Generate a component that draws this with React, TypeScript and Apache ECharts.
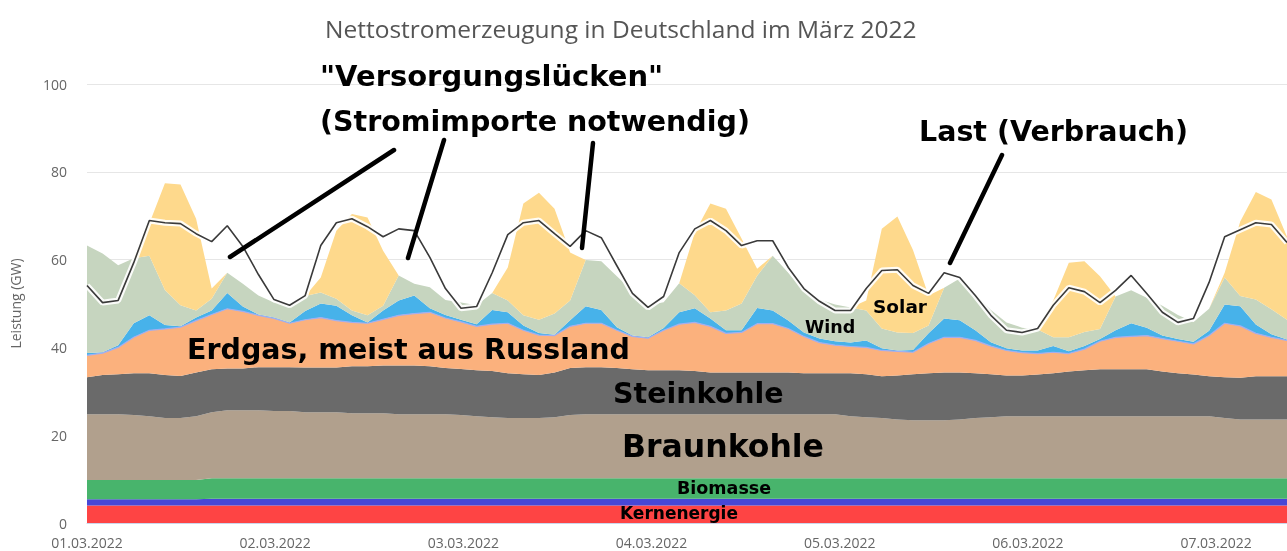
import React, { useEffect, useRef } from "react";
import * as echarts from "echarts";

const hours = [0, 2, 4, 6, 8, 10, 12, 14, 16, 18, 20, 22, 24, 26, 28, 30, 32, 34, 36, 38, 40, 42, 44, 46, 48, 50, 52, 54, 56, 58, 60, 62, 64, 66, 68, 70, 72, 74, 76, 78, 80, 82, 84, 86, 88, 90, 92, 94, 96, 98, 100, 102, 104, 106, 108, 110, 112, 114, 116, 118, 120, 122, 124, 126, 128, 130, 132, 134, 136, 138, 140, 142, 144, 146, 148, 150, 152, 154];

const dateLabels = ["01.03.2022", "02.03.2022", "03.03.2022", "04.03.2022", "05.03.2022", "06.03.2022", "07.03.2022"];
const dayStep = 24.15;

const kernenergie = [4.0, 4.0, 4.0, 4.0, 4.0, 4.0, 4.0, 4.0, 4.0, 4.0, 4.0, 4.0, 4.0, 4.0, 4.0, 4.0, 4.0, 4.0, 4.0, 4.0, 4.0, 4.0, 4.0, 4.0, 4.0, 4.0, 4.0, 4.0, 4.0, 4.0, 4.0, 4.0, 4.0, 4.0, 4.0, 4.0, 4.0, 4.0, 4.0, 4.0, 4.0, 4.0, 4.0, 4.0, 4.0, 4.0, 4.0, 4.0, 4.0, 4.0, 4.0, 4.0, 4.0, 4.0, 4.0, 4.0, 4.0, 4.0, 4.0, 4.0, 4.0, 4.0, 4.0, 4.0, 4.0, 4.0, 4.0, 4.0, 4.0, 4.0, 4.0, 4.0, 4.0, 4.0, 4.0, 4.0, 4.0, 4.0];
const laufwasser = [1.4, 1.4, 1.4, 1.4, 1.4, 1.4, 1.4, 1.4, 1.5, 1.5, 1.5, 1.5, 1.5, 1.5, 1.5, 1.5, 1.5, 1.5, 1.5, 1.5, 1.5, 1.5, 1.5, 1.5, 1.5, 1.5, 1.5, 1.5, 1.5, 1.5, 1.5, 1.5, 1.5, 1.5, 1.5, 1.5, 1.5, 1.5, 1.5, 1.5, 1.5, 1.5, 1.5, 1.5, 1.5, 1.5, 1.5, 1.5, 1.5, 1.5, 1.5, 1.5, 1.5, 1.5, 1.5, 1.5, 1.5, 1.5, 1.5, 1.5, 1.5, 1.5, 1.5, 1.5, 1.5, 1.5, 1.5, 1.5, 1.5, 1.5, 1.5, 1.5, 1.5, 1.5, 1.5, 1.5, 1.5, 1.5];
const biomasse = [4.4, 4.4, 4.4, 4.4, 4.4, 4.4, 4.4, 4.4, 4.7, 4.7, 4.7, 4.7, 4.7, 4.7, 4.7, 4.7, 4.7, 4.7, 4.7, 4.7, 4.7, 4.7, 4.7, 4.7, 4.7, 4.7, 4.7, 4.7, 4.7, 4.7, 4.7, 4.7, 4.7, 4.7, 4.7, 4.7, 4.7, 4.7, 4.7, 4.7, 4.7, 4.7, 4.7, 4.7, 4.7, 4.7, 4.7, 4.7, 4.7, 4.7, 4.7, 4.7, 4.7, 4.7, 4.7, 4.7, 4.7, 4.7, 4.7, 4.7, 4.7, 4.7, 4.7, 4.7, 4.7, 4.7, 4.7, 4.7, 4.7, 4.7, 4.7, 4.7, 4.7, 4.7, 4.7, 4.7, 4.7, 4.7];
const braunkohle = [15.0, 15.0, 15.0, 14.8, 14.5, 14.1, 14.1, 14.5, 15.0, 15.5, 15.5, 15.5, 15.3, 15.3, 15.0, 15.0, 15.0, 14.8, 14.8, 14.8, 14.6, 14.6, 14.6, 14.6, 14.4, 14.1, 13.9, 13.7, 13.7, 13.7, 13.9, 14.4, 14.6, 14.6, 14.6, 14.6, 14.6, 14.6, 14.6, 14.6, 14.6, 14.6, 14.6, 14.6, 14.6, 14.6, 14.6, 14.6, 14.6, 14.1, 13.9, 13.7, 13.4, 13.2, 13.2, 13.2, 13.4, 13.7, 13.9, 14.1, 14.1, 14.1, 14.1, 14.1, 14.1, 14.1, 14.1, 14.1, 14.1, 14.1, 14.1, 14.1, 14.1, 13.7, 13.4, 13.4, 13.4, 13.4];
const steinkohle = [8.4, 8.9, 9.1, 9.5, 9.8, 9.8, 9.6, 10.0, 9.8, 9.5, 9.5, 9.8, 10.0, 10.0, 10.2, 10.2, 10.2, 10.7, 10.7, 10.9, 11.1, 11.1, 10.9, 10.5, 10.5, 10.5, 10.5, 10.2, 10.0, 9.8, 10.2, 10.7, 10.7, 10.7, 10.5, 10.2, 10.0, 10.0, 10.0, 9.8, 9.5, 9.5, 9.5, 9.5, 9.5, 9.5, 9.3, 9.3, 9.3, 9.8, 9.8, 9.5, 10.0, 10.5, 10.7, 10.9, 10.7, 10.2, 9.8, 9.3, 9.3, 9.5, 9.8, 10.2, 10.5, 10.7, 10.7, 10.7, 10.7, 10.2, 9.8, 9.5, 9.1, 9.3, 9.5, 9.8, 9.8, 9.8];
const erdgas = [5.0, 5.0, 6.1, 8.2, 9.8, 10.5, 11.1, 11.8, 12.5, 13.6, 13.0, 11.8, 11.1, 10.0, 10.9, 11.4, 10.7, 10.0, 9.8, 10.5, 11.4, 11.8, 12.3, 11.4, 10.7, 10.0, 10.7, 11.4, 10.0, 9.1, 8.4, 9.5, 10.0, 10.0, 8.6, 7.5, 7.3, 9.1, 10.5, 11.1, 10.5, 8.9, 9.1, 11.1, 11.1, 10.0, 8.4, 7.0, 6.4, 6.1, 6.1, 5.9, 5.5, 5.0, 6.8, 8.0, 8.0, 7.5, 6.4, 5.7, 5.2, 4.8, 4.8, 4.1, 4.8, 6.4, 7.3, 7.5, 7.7, 7.5, 7.3, 7.0, 9.3, 12.3, 11.8, 9.8, 8.9, 8.2];
const pumpspeicher = [0.5, 0.2, 0.5, 3.2, 3.4, 0.9, 0.2, 0.7, 0.9, 3.6, 1.1, 0.2, 0.2, 0.2, 2.0, 3.2, 3.4, 1.6, 0.2, 2.0, 3.4, 4.1, 0.9, 0.7, 0.5, 0.5, 3.2, 2.5, 1.1, 0.5, 0.2, 1.4, 3.9, 3.0, 0.7, 0.2, 0.2, 0.5, 2.7, 3.2, 1.8, 0.7, 0.5, 3.6, 3.0, 1.8, 0.9, 0.9, 0.9, 0.9, 1.6, 0.5, 0.2, 0.5, 2.3, 4.3, 3.9, 2.3, 0.9, 0.5, 0.5, 0.7, 1.4, 0.5, 0.7, 0.5, 1.6, 3.0, 1.8, 0.7, 0.5, 0.5, 1.1, 4.3, 4.5, 2.0, 0.7, 0.2];
const wind = [24.5, 22.5, 18.2, 14.8, 13.6, 8.0, 4.8, 1.6, 2.7, 4.6, 5.2, 4.3, 3.4, 4.3, 3.4, 2.5, 1.6, 1.1, 1.6, 1.1, 5.7, 2.7, 4.8, 3.4, 3.9, 4.3, 3.9, 2.7, 2.3, 3.0, 4.8, 4.5, 10.5, 11.1, 11.6, 10.2, 7.3, 5.9, 6.6, 3.0, 1.4, 4.5, 6.1, 7.3, 12.5, 10.9, 9.5, 8.9, 8.4, 8.0, 6.8, 4.5, 4.1, 3.9, 1.8, 7.0, 9.5, 8.2, 7.3, 5.9, 5.2, 4.8, 2.0, 3.2, 3.2, 2.3, 7.7, 7.5, 6.8, 6.8, 5.5, 4.5, 5.0, 6.1, 2.3, 5.7, 5.7, 4.5];
const solar = [0, 0, 0, 0, 7.3, 24.3, 27.5, 20.9, 2.3, 0, 0, 0, 0, 0, 0, 3.4, 15.5, 22.0, 22.3, 12.5, 0, 0, 0, 0, 0, 0, 0, 7.5, 25.5, 28.9, 23.9, 10.9, 0, 0, 0, 0, 0, 0, 0, 14.3, 24.8, 23.2, 14.8, 1.6, 0, 0, 0, 0, 0, 0, 2.3, 22.7, 26.4, 18.9, 6.8, 0, 0, 0, 0, 0, 0, 0, 8.4, 17.0, 16.1, 12.0, 0, 0, 0, 0, 0, 0, 0, 1.1, 17.0, 24.5, 25.0, 18.9];
const last = [54.1, 50.2, 50.7, 59.3, 68.9, 68.4, 68.2, 65.9, 64.1, 67.7, 63.0, 56.6, 50.9, 49.6, 51.8, 63.2, 68.4, 69.3, 67.5, 65.2, 67.0, 66.6, 60.5, 53.4, 48.9, 49.3, 57.0, 65.7, 68.4, 68.9, 65.9, 63.0, 66.6, 65.0, 58.6, 52.3, 49.1, 51.6, 61.6, 67.0, 68.9, 66.6, 63.2, 64.3, 64.3, 58.2, 53.4, 50.5, 48.4, 48.4, 53.4, 57.5, 57.7, 54.1, 52.3, 57.0, 55.9, 51.8, 47.3, 43.9, 43.4, 44.3, 49.6, 53.6, 52.7, 50.2, 53.0, 56.4, 52.3, 48.0, 45.7, 46.6, 54.8, 65.2, 66.8, 68.4, 68.0, 63.9];

const annotations = [
  { text: "\"Versorgungslücken\"", x: 320, y: 76, size: 29 },
  { text: "(Stromimporte notwendig)", x: 320, y: 121, size: 28.5 },
  { text: "Last (Verbrauch)", x: 919, y: 131, size: 28.5 },
  { text: "Erdgas, meist aus Russland", x: 187, y: 349, size: 28.5 },
  { text: "Steinkohle", x: 613, y: 393, size: 28.5 },
  { text: "Braunkohle", x: 622, y: 446, size: 31.5 },
  { text: "Biomasse", x: 677, y: 488, size: 17.5 },
  { text: "Kernenergie", x: 620, y: 513, size: 17 },
  { text: "Wind", x: 805, y: 327, size: 17.5 },
  { text: "Solar", x: 873, y: 306, size: 18.5 },
];

const pointers = [
  [230, 257, 394, 150],
  [408, 258, 444, 140],
  [582, 248, 593, 143],
  [950, 263, 1002, 155],
];

export default function App() {
  const ref = useRef<HTMLDivElement>(null);
  useEffect(() => {
    if (!ref.current) return;
    const chart = echarts.init(ref.current, null, { renderer: "svg" });
    const area = (name: string, data: number[], color: string, line?: any) => ({
      name,
      type: "line",
      stack: "gen",
      data,
      symbol: "none",
      showSymbol: false,
      silent: true,
      lineStyle: line || { width: 0, opacity: 0 },
      itemStyle: { color },
      areaStyle: { color, opacity: 1 },
      z: 2,
    });
    const option: any = {
      animation: false,
      title: {
        text: "Nettostromerzeugung in Deutschland im März 2022",
        left: 320,
        top: 11,
        textStyle: { fontFamily: "Open Sans", fontSize: 24.5, fontWeight: "normal", color: "#555" },
      },
      grid: { left: 85, right: 0, top: 84, bottom: 28, containLabel: false },
      xAxis: [
        {
          type: "category",
          data: hours.map(String),
          boundaryGap: false,
          show: false,
        },
        {
          type: "value",
          min: 0,
          max: 154,
          interval: dayStep,
          position: "bottom",
          axisLine: { show: true, lineStyle: { color: "#ccd6eb" } },
          axisTick: { show: false },
          splitLine: { show: false },
          axisLabel: {
            color: "#666",
            fontFamily: "Open Sans",
            fontSize: 14,
            margin: 12,
            showMaxLabel: false,
            formatter: (v: number) => {
              const d = Math.round(v / dayStep);
              if (Math.abs(v / dayStep - d) > 0.01) return "";
              return dateLabels[d] || "";
            },
          },
        },
      ],
      yAxis: {
        type: "value",
        min: 0,
        max: 100,
        interval: 20,
        name: "Leistung (GW)",
        nameLocation: "middle",
        nameGap: 65,
        nameRotate: 90,
        nameTextStyle: { color: "#666", fontFamily: "Open Sans", fontSize: 14 },
        axisLine: { show: false },
        axisTick: { show: false },
        splitLine: { lineStyle: { color: "#e6e6e6", width: 1 } },
        axisLabel: { color: "#666", fontFamily: "Open Sans", fontSize: 14, margin: 20 },
      },
      series: [
        area("Kernenergie", kernenergie, "#fe4444"),
        area("Laufwasser", laufwasser, "#4747d6"),
        area("Biomasse", biomasse, "#48b46c"),
        area("Braunkohle", braunkohle, "#b1a08d"),
        area("Steinkohle", steinkohle, "#6a6a6a"),
        area("Erdgas", erdgas, "#fbb17d", { width: 1.2, color: "#a3aef0" }),
        area("Pumpspeicher", pumpspeicher, "#47b2ea"),
        area("Wind", wind, "#c6d5bf"),
        area("Solar", solar, "#fed98c"),
        {
          name: "LastHalo",
          type: "line",
          data: last,
          symbol: "none",
          silent: true,
          lineStyle: { color: "#ffffff", width: 6, opacity: 0.9 },
          z: 3,
        },
        {
          name: "Last",
          type: "line",
          data: last,
          symbol: "none",
          silent: true,
          lineStyle: { color: "#3a3a3a", width: 1.6 },
          z: 4,
        },
      ],
      graphic: [
        ...pointers.map((p) => ({
          type: "line",
          z: 100,
          shape: { x1: p[0], y1: p[1], x2: p[2], y2: p[3] },
          style: { stroke: "#000", lineWidth: 4.5, lineCap: "round" },
        })),
        ...annotations.map((a) => ({
          type: "text",
          z: 101,
          x: a.x,
          y: a.y,
          style: {
            text: a.text,
            font: `bold ${a.size}px "DejaVu Sans"`,
            fill: "#000",
            textAlign: "left",
            textVerticalAlign: "middle",
          },
        })),
      ],
    };
    chart.setOption(option);
    return () => chart.dispose();
  }, []);
  return <div ref={ref} style={{ position: "fixed", left: 0, top: 0, width: 1287, height: 551 }} />;
}
